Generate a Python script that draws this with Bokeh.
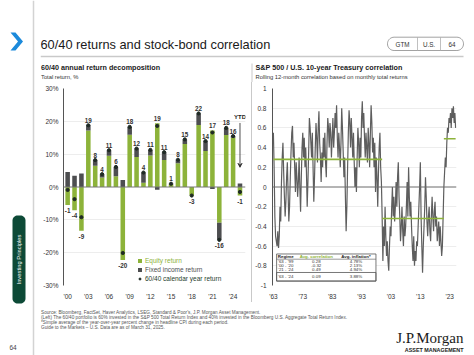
import numpy as np
from bokeh.plotting import figure
from bokeh.models import (FixedTicker, Span, Legend, LegendItem, Label, Arrow,
                          VeeHead, Div, Range1d)
from bokeh.layouts import row, column
from bokeh.embed import file_html
from bokeh.resources import INLINE
from bokeh.core.properties import value

# ---------------- data ----------------
years = list(range(2000, 2026))
year_ticks = [2000, 2003, 2006, 2009, 2012, 2015, 2018, 2021, 2024]
equity_return = [-5.5, -7.1, -13.3, 17.2, 6.5, 2.9, 9.5, 3.3, -22.2, 15.9, 9.1, 1.3, 9.6,
                 19.4, 8.2, 0.8, 7.2, 13.1, -2.6, 18.9, 11.0, 17.2, -10.9, 15.8, 15.0, -2.6]
fixed_income_return = [4.6, 3.4, 4.1, 1.6, 1.7, 1.0, 1.7, 2.8, 2.1, 2.4, 2.6, 3.1, 1.7,
                       -0.8, 2.4, 0.2, 1.1, 1.4, 0.0, 3.5, 3.0, -0.6, -5.2, 2.2, 0.5, 1.1]
total_label = [-1, -4, -9, 19, 8, 4, 11, 6, -20, 18, 12, 4, 11, 19, 11, 1, 8, 15, -3, 22,
               14, 17, -16, 18, 16, -1]
pct_ticks = [-30, -20, -10, 0, 10, 20, 30]

corr_start = 1963.0
corr_quarterly = [
    0.55, 0.2, -0.3, -0.5,      # 1963
    -0.55, -0.6, -0.45, -0.62,  # 1964
    -0.5, -0.2, -0.35, 0.05,    # 1965
    0.3, 0.45, 0.15, -0.1,      # 1966
    -0.3, -0.15, 0.1, 0.25,     # 1967
    -0.05, -0.35, -0.2, 0.1,    # 1968
    0.35, 0.55, 0.62, 0.3,      # 1969
    0.45, 0.2, -0.05, 0.25,     # 1970
    0.1, -0.1, 0.05, 0.3,       # 1971
    0.0, -0.25, 0.1, 0.4,       # 1972
    0.55, 0.3, 0.5, 0.2,        # 1973
    0.4, 0.15, -0.2, 0.05,      # 1974
    0.35, 0.7, 0.6, 0.45,       # 1975
    0.3, 0.55, 0.2, -0.15,      # 1976
    0.1, 0.4, 0.65, 0.5,        # 1977
    0.25, 0.6, 0.77, 0.45,      # 1978
    0.3, 0.05, 0.35, 0.2,       # 1979
    0.5, 0.3, 0.55, 0.25,       # 1980
    0.1, 0.45, 0.7, 0.6,        # 1981
    0.4, 0.65, 0.55, 0.3,       # 1982
    0.5, 0.7, 0.4, 0.55,        # 1983
    0.75, 0.6, 0.83, 0.5,       # 1984
    0.3, 0.55, 0.4, 0.2,        # 1985
    0.45, 0.8, 0.6, 0.35,       # 1986
    0.1, 0.3, -0.1, -0.45,      # 1987
    -0.2, 0.2, 0.55, 0.78,      # 1988
    0.65, 0.4, 0.7, 0.5,        # 1989
    0.3, 0.55, 0.25, 0.0,       # 1990
    0.2, -0.05, 0.3, 0.6,       # 1991
    0.45, 0.2, 0.5, 0.3,        # 1992
    0.7, 0.87, 0.6, 0.75,       # 1993
    0.5, 0.3, 0.55, 0.4,        # 1994
    0.25, 0.6, 0.45, 0.2,       # 1995
    0.55, 0.83, 0.65, 0.35,     # 1996
    0.5, 0.2, 0.45, -0.05,      # 1997
    0.3, 0.1, -0.2, 0.15,       # 1998
    0.4, 0.55, 0.2, 0.05,       # 1999
    -0.3, -0.75, -0.4, -0.6,    # 2000
    -0.2, -0.5, -0.7, -0.55,    # 2001
    -0.75, -0.85, -0.6, -0.4,   # 2002
    -0.5, -0.2, 0.0, -0.3,      # 2003
    -0.1, -0.35, -0.2, 0.05,    # 2004
    -0.2, 0.1, 0.25, -0.1,      # 2005
    -0.3, -0.55, -0.4, -0.2,    # 2006
    -0.45, -0.6, -0.3, -0.5,    # 2007
    -0.4, -0.2, 0.05, -0.3,     # 2008
    0.2, -0.1, -0.3, -0.15,     # 2009
    -0.4, -0.6, -0.75, -0.5,    # 2010
    -0.8, -0.65, -0.75, -0.55,  # 2011
    -0.6, -0.4, -0.2, 0.0,      # 2012
    0.25, -0.3, -0.6, -0.87,    # 2013
    -0.6, -0.4, -0.2, 0.1,      # 2014
    -0.1, -0.35, -0.5, -0.3,    # 2015
    -0.2, -0.45, -0.55, -0.3,   # 2016
    -0.1, -0.3, -0.45, -0.25,   # 2017
    -0.15, -0.4, -0.3, -0.55,   # 2018
    -0.45, -0.35, -0.6, -0.4,   # 2019
    -0.55, -0.7, -0.6, -0.3,    # 2020
    0.0, 0.15, 0.3, 0.2,        # 2021
    0.45, 0.6, 0.55, 0.7,       # 2022
    0.65, 0.75, 0.6, 0.8,       # 2023
    0.7, 0.82, 0.65, 0.75,      # 2024
    0.6,                        # 2025
]
corr_ticks = [-1, -0.8, -0.6, -0.4, -0.2, 0, 0.2, 0.4, 0.6, 0.8, 1]
corr_year_ticks = [1963, 1973, 1983, 1993, 2003, 2013, 2023]
regime_start = [1963, 2000, 2021]
regime_end = [2000, 2021, 2025]
regime_avg = [0.28, -0.32, 0.49]
table_regime = ["'63 - '99", "'00 - '20", "'21 - '24", "'63 - '24"]
table_corr = ["0.28", "-0.32", "0.49", "0.09"]
table_infl = ["4.78%", "2.13%", "4.94%", "3.88%"]

# ---------------- style ----------------
FONT = "Liberation Sans"
GREEN = "#8DB33A"
DARK = "#4D4E50"
DOT = "#1F2A24"
TXT = "#333333"
LINE = "#5E5E5E"


def bare(fig):
    fig.outline_line_color = None
    fig.xgrid.visible = False
    fig.ygrid.visible = False
    fig.background_fill_color = "white"
    fig.border_fill_color = "white"


def rounded(x0, y0, x1, y1, r, n=10):
    xs, ys = [], []
    for cx, cy, a0, a1 in [(x1 - r, y0 + r, -np.pi / 2, 0), (x1 - r, y1 - r, 0, np.pi / 2),
                           (x0 + r, y1 - r, np.pi / 2, np.pi), (x0 + r, y0 + r, np.pi, 1.5 * np.pi)]:
        t = np.linspace(a0, a1, n)
        xs += list(cx + r * np.cos(t))
        ys += list(cy + r * np.sin(t))
    return xs, ys


W, H = 474, 355

# ---------------- left strip ----------------
ps = figure(width=40, height=H, x_range=Range1d(0, 40), y_range=Range1d(H, 0),
            x_axis_type=None, y_axis_type=None, output_backend="svg", toolbar_location=None,
            min_border=0)
bare(ps)
ps.segment(x0=[33], y0=[0], x1=[33], y1=[H], line_color="#D3D3D3", line_width=1.5)
ps.patch(x=[10, 15, 22.5, 15, 10, 17.5], y=[32, 32, 41, 50, 50, 41], fill_color="#1C8ADB",
         line_color=None)
tx, ty = rounded(12, 215, 25, 303, 5)
ps.patch(x=tx, y=ty, fill_color="#0D4A37", line_color=None)
ps.text(x=[18.8], y=[259], text=["Investing Principles"], angle=np.pi / 2, text_align="center",
        text_baseline="middle", text_color="white", text_font=value(FONT), text_font_size="5.8px")
ps.text(x=[9], y=[347], text=["64"], text_align="left", text_baseline="middle",
        text_color="#444444", text_font=value(FONT), text_font_size="6.5px")

# ---------------- header ----------------
HW = W - 40
ph = figure(width=HW, height=82, x_range=Range1d(0, HW), y_range=Range1d(82, 0),
            x_axis_type=None, y_axis_type=None, output_backend="svg", toolbar_location=None,
            min_border=0)
bare(ph)
ph.text(x=[0], y=[43.5], text=["60/40 returns and stock-bond correlation"], text_align="left",
        text_baseline="middle", text_color="#1A1A1A", text_font=value(FONT),
        text_font_size="12.8px")
px_, py_ = rounded(347, 36.7, 423, 50, 6.6)
ph.patch(x=px_, y=py_, fill_color="white", line_color="#8A8A8A", line_width=0.8)
ph.segment(x0=[377, 400], y0=[36.7, 36.7], x1=[377, 400], y1=[50, 50], line_color="#B0B0B0",
           line_width=0.8)
ph.text(x=[362, 388.5, 411.5], y=[43.5, 43.5, 43.5], text=["GTM", "U.S.", "64"],
        text_align="center", text_baseline="middle", text_color="#333333",
        text_font=value(FONT), text_font_size="6.3px")
ph.segment(x0=[0], y0=[56], x1=[423], y1=[56], line_color="#C9C9C9", line_width=1.5)
ph.segment(x0=[211.5], y0=[63], x1=[211.5], y1=[82], line_color="#C9C9C9", line_width=1)
ph.text(x=[0.5, 215], y=[67, 67],
        text=["60/40 annual return decomposition", "S&P 500 / U.S. 10-year Treasury correlation"],
        text_align="left", text_baseline="middle", text_color="#1A1A1A", text_font=value(FONT),
        text_font_size="7.2px", text_font_style="bold")
ph.text(x=[0.5, 215], y=[76.5, 76.5],
        text=["Total return, %", "Rolling 12-month correlation based on monthly total returns"],
        text_align="left", text_baseline="middle", text_color="#333333", text_font=value(FONT),
        text_font_size="5.8px")

# ---------------- left chart ----------------
pl = figure(width=211, height=220, x_range=Range1d(1999.4, 2025.8), y_range=Range1d(-30, 30),
            output_backend="svg", toolbar_location=None, min_border_left=23,
            min_border_right=6, min_border_top=6, min_border_bottom=17)
pl.outline_line_color = None
pl.xgrid.visible = False
pl.ygrid.ticker = FixedTicker(ticks=[t for t in pct_ticks if t != 0])
pl.ygrid.grid_line_color = "#E9E9E9"
pl.ygrid.grid_line_width = 0.8
pl.yaxis.ticker = FixedTicker(ticks=pct_ticks)
pl.yaxis.major_label_overrides = {t: f"{t}%" for t in pct_ticks}
pl.xaxis.ticker = FixedTicker(ticks=year_ticks)
pl.xaxis.major_label_overrides = {t: "'" + str(t)[2:] for t in year_ticks}
for ax in (pl.xaxis[0], pl.yaxis[0]):
    ax.major_tick_line_color = None
    ax.minor_tick_line_color = None
    ax.major_tick_out = 0
    ax.major_tick_in = 0
    ax.major_label_text_font = FONT
    ax.major_label_text_font_size = "6.5px"
    ax.major_label_text_color = TXT
pl.xaxis.axis_line_color = None
pl.yaxis.axis_line_color = "#555555"
pl.yaxis.axis_line_width = 1
pl.xaxis.major_label_standoff = 7
pl.yaxis.major_label_standoff = 5

eq = np.array(equity_return)
fi = np.array(fixed_income_return)
fi_bottom = np.where(fi >= 0, np.maximum(eq, 0), np.minimum(eq, 0))
fi_top = fi_bottom + fi
tot = eq + fi
pos_top = np.maximum(eq, 0) + np.maximum(fi, 0)
neg_bot = np.minimum(eq, 0) + np.minimum(fi, 0)

r_eq = pl.vbar(x=years, top=eq, bottom=0, width=0.66, fill_color=GREEN, line_color=None)
r_fi = pl.vbar(x=years, top=fi_top, bottom=fi_bottom, width=0.66, fill_color=DARK,
               line_color=None)
pl.add_layout(Span(location=0, dimension="width", line_color="#777777", line_width=1))
r_dot = pl.scatter(x=years, y=tot, size=3.2, fill_color=DOT, line_color=DOT)

lab = [str(v) for v in total_label]
pos = [i for i, v in enumerate(total_label) if v >= 0]
neg = [i for i, v in enumerate(total_label) if v < 0]
pl.text(x=[years[i] for i in pos], y=[pos_top[i] for i in pos], text=[lab[i] for i in pos],
        text_align="center", text_baseline="bottom", y_offset=-2.5, text_color=TXT,
        text_font=value(FONT), text_font_size="6.3px", text_font_style="bold")
pl.text(x=[years[i] for i in neg], y=[neg_bot[i] for i in neg], text=[lab[i] for i in neg],
        text_align="center", text_baseline="top", y_offset=3, text_color=TXT,
        text_font=value(FONT), text_font_size="6.3px", text_font_style="bold")

pl.add_layout(Arrow(end=VeeHead(size=4, line_color="#222222", fill_color="#222222",
                                line_width=0.8),
                    x_start=years[-1], y_start=19.5, x_end=years[-1], y_end=6,
                    line_color="#222222", line_width=0.8))
pl.add_layout(Label(x=years[-1], y=20.5, text="YTD", text_align="center",
                    text_baseline="bottom", text_font=FONT, text_font_size="6px",
                    text_font_style="bold", text_color="#222222"))

for i, (rend, name, col) in enumerate([(r_eq, "Equity return", GREEN),
                                        (r_fi, "Fixed income return", DARK),
                                        (r_dot, "60/40 calendar year return", "#1E3D2C")]):
    lg = Legend(items=[LegendItem(label=name, renderers=[rend])],
                location=(74, 21 - 9 * i), orientation="vertical",
                label_text_color=col, label_text_font=FONT, label_text_font_size="6.5px",
                label_height=7, glyph_height=5, glyph_width=5, label_standoff=3, padding=0,
                margin=0, spacing=0, border_line_color=None, background_fill_alpha=0)
    pl.add_layout(lg)

# ---------------- right chart ----------------
RW = HW - 211 - 1
pr = figure(width=RW, height=220, x_range=Range1d(1962.7, 2025.3), y_range=Range1d(-1, 1),
            output_backend="svg", toolbar_location=None, min_border_left=19,
            min_border_right=RW - 204, min_border_top=6, min_border_bottom=17)
pr.outline_line_color = None
pr.xgrid.visible = False
pr.ygrid.ticker = FixedTicker(ticks=[t for t in corr_ticks if t != 0])
pr.ygrid.grid_line_color = "#E9E9E9"
pr.ygrid.grid_line_width = 0.8
pr.yaxis.ticker = FixedTicker(ticks=corr_ticks)
pr.yaxis.major_label_overrides = {t: ("%g" % t) for t in corr_ticks}
pr.xaxis.ticker = FixedTicker(ticks=corr_year_ticks)
pr.xaxis.major_label_overrides = {t: "'" + str(t)[2:] for t in corr_year_ticks}
for ax in (pr.xaxis[0], pr.yaxis[0]):
    ax.major_tick_line_color = None
    ax.minor_tick_line_color = None
    ax.major_tick_out = 0
    ax.major_tick_in = 0
    ax.major_label_text_font = FONT
    ax.major_label_text_font_size = "6.5px"
    ax.major_label_text_color = TXT
pr.xaxis.axis_line_color = None
pr.yaxis.axis_line_color = "#555555"
pr.xaxis.major_label_standoff = 7
pr.yaxis.major_label_standoff = 6

pr.add_layout(Span(location=0, dimension="width", line_color="#6A6A6A", line_width=1))
corr_x = [corr_start + 0.25 * i for i in range(len(corr_quarterly))]
pr.line(x=corr_x, y=corr_quarterly, line_color=LINE, line_width=1.2)
pr.segment(x0=regime_start, y0=regime_avg, x1=regime_end, y1=regime_avg, line_color=GREEN,
           line_width=1.6)

# regime table (layout positions in chart units)
tx0, tx1, ty0, ty1 = 1964.1, 1997.9, -0.68, -0.955
pr.quad(left=[tx0], right=[tx1], top=[ty0], bottom=[ty1], fill_color="white",
        line_color="#555555", line_width=0.8)
pr.quad(left=[tx0], right=[tx1], top=[-0.868], bottom=[ty1], fill_color=None,
        line_color="#555555", line_width=0.8)
pr.segment(x0=[tx0], y0=[-0.733], x1=[tx1], y1=[-0.733], line_color="#555555", line_width=0.6)
col_x = [1967.2, 1977.6, 1991.1]
pr.text(x=col_x, y=[-0.707] * 3, text=["Regime", "Avg. correlation", "Avg. inflation*"],
        text_align="center", text_baseline="middle",
        text_color=["#222222", GREEN, "#222222"], text_font=value(FONT),
        text_font_size="4.4px", text_font_style="bold")
row_y = [-0.758, -0.799, -0.840, -0.911]
pr.text(x=[col_x[0]] * 4, y=row_y, text=table_regime, text_align="center",
        text_baseline="middle", text_color="#333333", text_font=value(FONT),
        text_font_size="4.4px")
pr.text(x=[col_x[1]] * 4, y=row_y, text=table_corr, text_align="center",
        text_baseline="middle", text_color="#333333", text_font=value(FONT),
        text_font_size="4.4px")
pr.text(x=[col_x[2]] * 4, y=row_y, text=table_infl, text_align="center",
        text_baseline="middle", text_color="#333333", text_font=value(FONT),
        text_font_size="4.4px")

sep = Div(width=1, height=220, margin=(0, 0, 0, 0), styles={"background-color": "#C9C9C9"})

# ---------------- footer ----------------
FH = H - 82 - 220
pf = figure(width=HW, height=FH, x_range=Range1d(0, HW), y_range=Range1d(FH, 0),
            x_axis_type=None, y_axis_type=None, output_backend="svg", toolbar_location=None,
            min_border=0)
bare(pf)
notes = [
    "Source: Bloomberg, FactSet, Haver Analytics, LSEG, Standard & Poor's, J.P. Morgan Asset Management.",
    "(Left) The 60/40 portfolio is 60% invested in the S&P 500 Total Return Index and 40% invested in the Bloomberg U.S. Aggregate Total Return Index.",
    "*Simple average of the year-over-year percent change in headline CPI during each period.",
    "Guide to the Markets \u2013 U.S. Data are as of March 31, 2025.",
]
pf.text(x=[0.5] * 4, y=[10.3, 15.3, 20.2, 25.3], text=notes, text_align="left",
        text_baseline="middle", text_color="#555555", text_font=value(FONT),
        text_font_size="4.7px")
pf.text(x=[423], y=[35], text=["J.P.Morgan"], text_align="right", text_baseline="middle",
        text_color="#1A1A1A", text_font=value("Liberation Serif"), text_font_size="15px")
pf.text(x=[423], y=[47.5], text=["ASSET MANAGEMENT"], text_align="right",
        text_baseline="middle", text_color="#1A1A1A", text_font=value(FONT),
        text_font_size="5.4px", text_font_style="bold")

layout = row(ps, column(ph, row(pl, sep, pr), pf))
open("out.html", "w").write(file_html(layout, INLINE))
